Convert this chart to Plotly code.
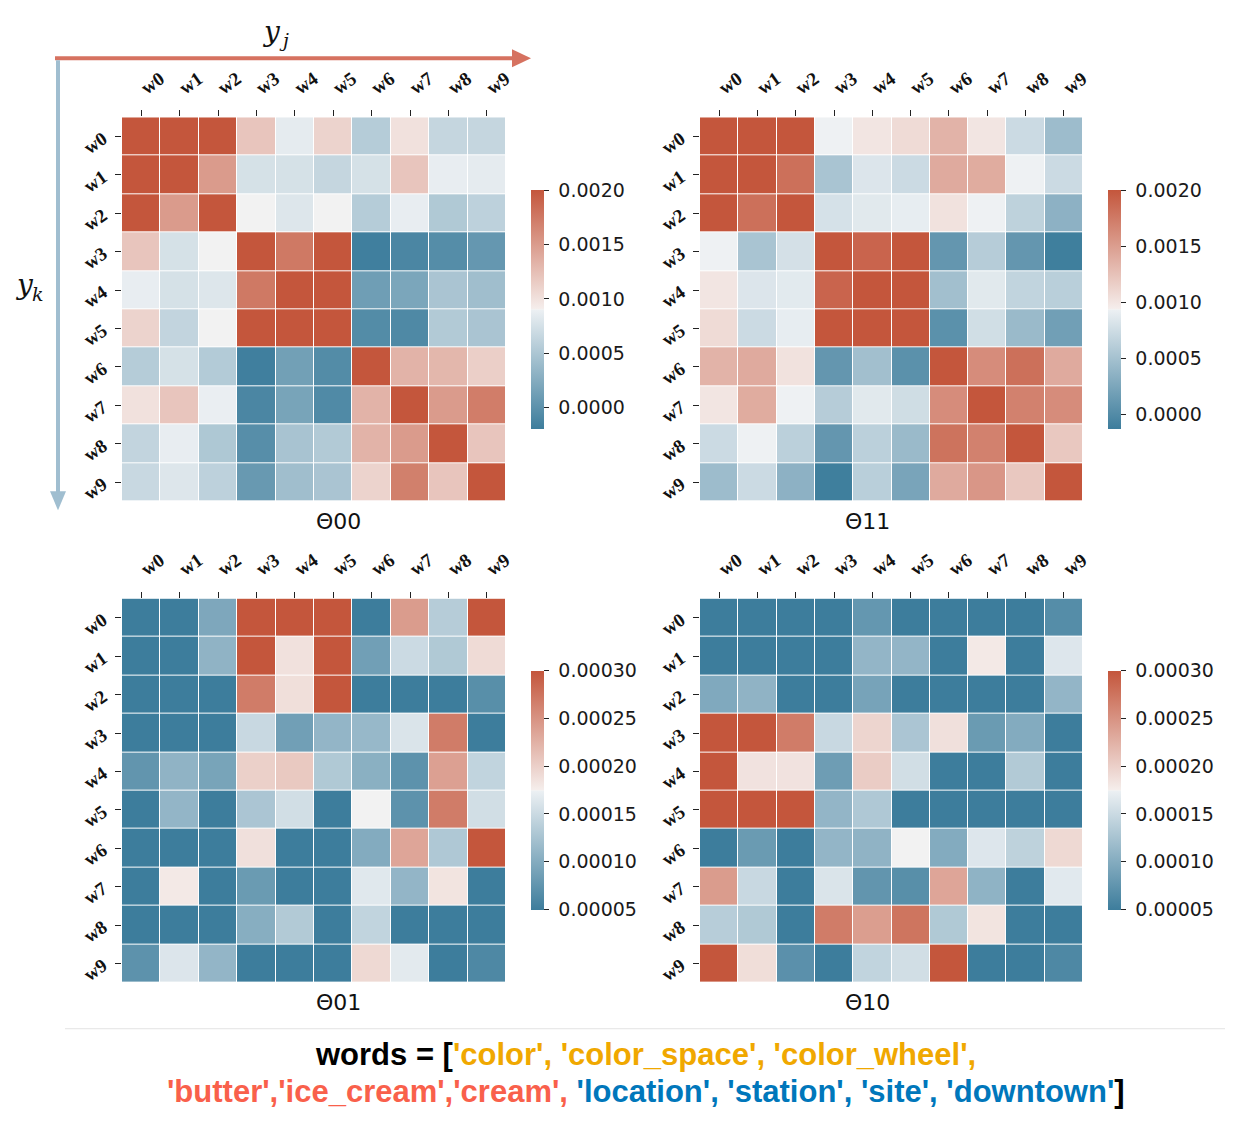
import plotly.graph_objects as go

# word labels on both axes
words = ["w0", "w1", "w2", "w3", "w4", "w5", "w6", "w7", "w8", "w9"]

# values, in units of 1e-4
theta00 = [
    [22, 22, 22, 12, 8.5, 11, 5.5, 10, 6.5, 6.5],
    [22, 22, 15, 7.5, 7.5, 6.5, 7.5, 12, 8.7, 8.5],
    [22, 15, 22, 9, 8, 9, 5.5, 8.7, 5.2, 6],
    [12, 7.5, 9, 22, 17.5, 22, -1.8, -1.1, -0.5, 0.5],
    [8.7, 7.5, 8, 17.5, 22, 22, 1.1, 1.9, 4.8, 4.2],
    [11, 6.3, 9, 22, 22, 22, -0.6, -0.9, 5.3, 4.8],
    [5.5, 7.5, 5.4, -1.8, 1.3, -0.6, 22, 13.3, 13, 11.3],
    [10, 12, 8.8, -1.1, 1.7, -0.8, 13.3, 22, 15, 17.2],
    [6.3, 8.7, 5.1, -0.4, 4.7, 5.3, 13.3, 15, 22, 12],
    [6.7, 8, 6, 0.7, 4.2, 4.8, 11, 17, 12, 22],
]
theta11 = [
    [21, 21, 21, 9.3, 10, 10.7, 13.5, 10, 7.3, 4.5],
    [21, 21, 18.2, 5.2, 8.3, 7.3, 14.1, 14, 9.3, 7.3],
    [21, 18.2, 21, 7.9, 8.6, 9, 10.2, 9.3, 6.5, 3.5],
    [9.3, 5.2, 7.8, 21, 19, 21, 1, 6, 1, -1.2],
    [10, 8.3, 8.7, 19, 21, 21, 4.8, 8.6, 6.7, 6.2],
    [10.7, 7.3, 9, 21, 21, 21, 0.5, 7.6, 4.3, 1.8],
    [13.5, 14.1, 10.2, 1, 4.8, 0.5, 21, 16.2, 18.2, 14.1],
    [10, 14, 9.3, 6, 8.6, 7.5, 16.2, 21, 17, 16.2],
    [7.3, 9.3, 6.3, 1, 6.3, 4.3, 18, 17, 21, 12],
    [4.5, 7.3, 3.5, -1.2, 6.2, 2.3, 14.1, 15.5, 12, 21],
]
theta01 = [
    [0.5, 0.5, 0.96, 3.0, 3.0, 3.0, 0.5, 2.43, 1.36, 3.0],
    [0.5, 0.5, 1.09, 3.0, 1.86, 3.0, 0.87, 1.51, 1.32, 1.91],
    [0.5, 0.5, 0.5, 2.69, 1.88, 3.0, 0.5, 0.5, 0.5, 0.69],
    [0.5, 0.5, 0.5, 1.49, 0.87, 1.11, 1.14, 1.62, 2.69, 0.5],
    [0.76, 1.09, 0.92, 2.0, 2.06, 1.32, 1.05, 0.73, 2.39, 1.44],
    [0.5, 1.11, 0.5, 1.28, 1.55, 0.5, 1.75, 0.73, 2.69, 1.55],
    [0.5, 0.5, 0.5, 1.87, 0.5, 0.5, 1.0, 2.35, 1.31, 3.0],
    [0.5, 1.8, 0.5, 0.82, 0.5, 0.5, 1.66, 1.11, 1.84, 0.5],
    [0.5, 0.5, 0.5, 1.03, 1.33, 0.5, 1.44, 0.5, 0.5, 0.5],
    [0.73, 1.63, 1.11, 0.5, 0.5, 0.5, 1.93, 1.68, 0.5, 0.62],
]
theta10 = [
    [0.5, 0.5, 0.5, 0.5, 0.78, 0.5, 0.5, 0.5, 0.5, 0.67],
    [0.5, 0.5, 0.5, 0.5, 1.11, 1.11, 0.5, 1.8, 0.5, 1.64],
    [0.98, 1.09, 0.5, 0.5, 0.91, 0.5, 0.5, 0.5, 0.5, 1.11],
    [3.0, 3.0, 2.69, 1.49, 1.96, 1.28, 1.87, 0.82, 1.0, 0.5],
    [3.0, 1.85, 1.85, 0.85, 2.03, 1.55, 0.5, 0.5, 1.33, 0.5],
    [3.0, 3.0, 3.0, 1.11, 1.31, 0.5, 0.5, 0.5, 0.5, 0.5],
    [0.5, 0.82, 0.5, 1.11, 1.09, 1.75, 1.0, 1.64, 1.42, 1.93],
    [2.43, 1.49, 0.5, 1.62, 0.76, 0.69, 2.35, 1.08, 0.5, 1.67],
    [1.37, 1.32, 0.5, 2.69, 2.41, 2.75, 1.32, 1.84, 0.5, 0.5],
    [3.0, 1.89, 0.71, 0.5, 1.44, 1.55, 3.0, 0.5, 0.5, 0.62],
]
UNIT = 1e-4

# colour limits of each panel
titles = ["Θ00", "Θ11", "Θ01", "Θ10"]
zmins = [-0.0002, -0.000134, 0.00005, 0.00005]
zmaxs = [0.0020, 0.0020, 0.00030, 0.00030]
cb_ticks_top = [0.0, 0.0005, 0.0010, 0.0015, 0.0020]
cb_ticks_bottom = [0.00005, 0.00010, 0.00015, 0.00020, 0.00025, 0.00030]

# layout is worked out on a 1233x1126 grid; the figure is drawn a touch larger
# because the photographed page comes out slightly shrunk
RW, RH = 1233, 1126
W, H = 1241, 1131

# seaborn-like diverging palette (220 -> 20, light centre)
cscale = [
    [0.0, "rgb(61,125,156)"],
    [0.498, "rgb(236,240,243)"],
    [0.5, "rgb(242,242,242)"],
    [0.502, "rgb(245,238,236)"],
    [1.0, "rgb(196,86,60)"],
]


def px(x):
    return x / RW


def py(y):
    return 1 - y / RH


# panel boxes in pixels: left, right, top, bottom, colorbar x
boxes = [
    (122, 506, 117, 500, 531),
    (700, 1083, 117, 500, 1108),
    (122, 506, 597, 980, 531),
    (700, 1083, 597, 980, 1108),
]

fig = go.Figure()
tick_font = dict(family="Liberation Serif", size=19, color="#111111", weight="bold")
NB = "\u00a0"

for i, (data, title, zmin, zmax, box) in enumerate(zip(
        [theta00, theta11, theta01, theta10], titles, zmins, zmaxs, boxes)):
    l, r, t, b, cbx = box
    n = "" if i == 0 else str(i + 1)
    z = [[v * UNIT for v in row] for row in data]
    top = i < 2
    tv = cb_ticks_top if top else cb_ticks_bottom
    fmt = "{:.4f}" if top else "{:.5f}"
    fig.add_trace(go.Heatmap(
        z=z, x=words, y=words,
        xaxis="x" + n, yaxis="y" + n,
        zmin=zmin, zmax=zmax, colorscale=cscale,
        xgap=1, ygap=1,
        colorbar=dict(
            x=px(cbx), xanchor="left", xpad=0, ypad=0,
            y=(py(190) + py(428)) / 2 if top else (py(669) + py(907)) / 2,
            yanchor="middle",
            len=239, lenmode="pixels", thickness=13, thicknessmode="pixels",
            outlinewidth=0, ticks="outside", ticklen=5, tickwidth=1, tickcolor="#222",
            tickvals=tv, ticktext=[NB + fmt.format(v) for v in tv],
            tickfont=dict(family="DejaVu Sans", size=19, color="#1a1a1a"),
        ),
    ))
    axis_style = dict(tickangle=-35, tickfont=tick_font, ticks="outside",
                      ticklen=6, tickwidth=1.2, tickcolor="#222",
                      showgrid=False, zeroline=False, showline=False)
    fig.update_layout(**{
        "xaxis" + n: dict(domain=[px(l), px(r)], anchor="y" + n, side="top",
                          ticklabelstandoff=6, **axis_style),
        "yaxis" + n: dict(domain=[py(b), py(t)], anchor="x" + n, autorange="reversed",
                          ticklabelstandoff=8, **axis_style),
    })
    fig.add_annotation(x=px((l + r) / 2), y=py(b + 20), xref="paper", yref="paper",
                       text=title, showarrow=False, yanchor="middle",
                       font=dict(family="DejaVu Sans", size=22, color="#111"))

red_arrow = "rgb(214,114,96)"
blue_arrow = "rgb(160,190,208)"
shapes = [
    dict(type="line", xref="paper", yref="paper", x0=px(55), x1=px(516), y0=py(58), y1=py(58),
         line=dict(color=red_arrow, width=4)),
    dict(type="path", xref="paper", yref="paper",
         path=f"M {px(512)} {py(49)} L {px(531)} {py(58)} L {px(512)} {py(67)} Z",
         fillcolor=red_arrow, line=dict(width=0)),
    dict(type="line", xref="paper", yref="paper", x0=px(58), x1=px(58), y0=py(60), y1=py(494),
         line=dict(color=blue_arrow, width=4)),
    dict(type="path", xref="paper", yref="paper",
         path=f"M {px(50)} {py(490)} L {px(58)} {py(509)} L {px(66)} {py(490)} Z",
         fillcolor=blue_arrow, line=dict(width=0)),
    dict(type="line", xref="paper", yref="paper", x0=px(65), x1=px(1225), y0=py(1026), y1=py(1026),
         line=dict(color="#e3e3e3", width=1)),
]

# axis-direction labels y_j and y_k (letter + smaller subscript)
serif_it = dict(family="DejaVu Serif", color="#111")
for (xx, yy, s) in [(271, 31, "j"), (24, 284, "k")]:
    fig.add_annotation(x=px(xx), y=py(yy), xref="paper", yref="paper", showarrow=False,
                       text="<i>y</i>", xanchor="center", yanchor="middle",
                       font=dict(size=28, **serif_it))
    fig.add_annotation(x=px(xx + 6), y=py(yy + 9), xref="paper", yref="paper",
                       showarrow=False, text=f"<i>{s}</i>", xanchor="left", yanchor="middle",
                       font=dict(size=19, **serif_it))

orange, coral, blue = "#f0a800", "#f9604b", "#0077bb"
line1 = ("<b>words = [</b>"
         f"<span style='color:{orange}'><b>'color', 'color_space', 'color_wheel',</b></span>")
line2 = (f"<span style='color:{coral}'><b>'butter','ice_cream','cream', </b></span>"
         f"<span style='color:{blue}'><b>'location', 'station', 'site', 'downtown'</b></span>"
         "<b>]</b>")
for txt, yy in [(line1, 1052), (line2, 1089)]:
    fig.add_annotation(x=px(646), y=py(yy), xref="paper", yref="paper", showarrow=False,
                       text=txt, yanchor="middle",
                       font=dict(family="Liberation Sans", size=31, color="#000"))

fig.update_layout(
    width=W, height=H,
    margin=dict(l=0, r=0, t=0, b=0),
    paper_bgcolor="white", plot_bgcolor="white",
    shapes=shapes,
    showlegend=False,
)

# drop the default page margin so the figure starts at the window corner
fig.write_html("out.html", config={"displayModeBar": False},
               post_script="document.body.style.margin='0';document.body.style.overflow='hidden';")
